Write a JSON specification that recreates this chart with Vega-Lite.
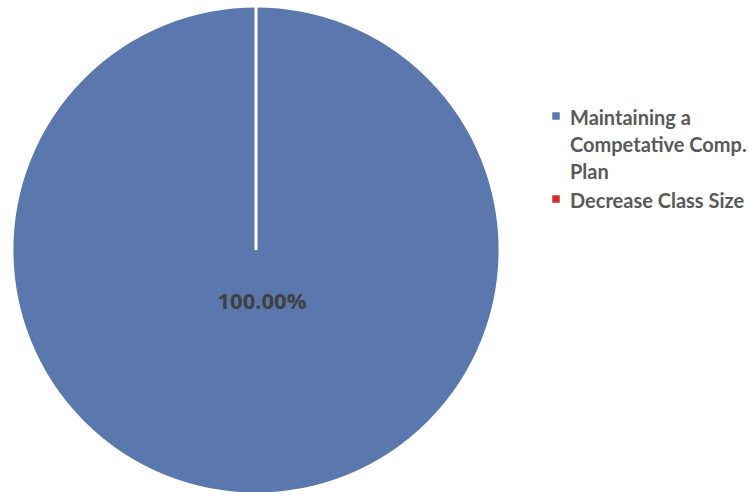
{
  "$schema": "https://vega.github.io/schema/vega-lite/v6.json",
  "width": 512,
  "height": 500,
  "padding": 0,
  "autosize": {"type": "pad"},
  "background": "white",
  "view": {"stroke": null},
  "config": {
    "style": {"guide-label": {"lineHeight": 27, "dy": -7}}
  },
  "data": {
    "values": [
      {"category": "Maintaining a Competative Comp. Plan", "value": 1},
      {"category": "Decrease Class Size", "value": 0}
    ]
  },
  "encoding": {
    "theta": {"field": "value", "type": "quantitative", "stack": true},
    "order": {"field": "value", "type": "quantitative", "sort": "descending"}
  },
  "layer": [
    {
      "mark": {"type": "arc", "outerRadius": 244, "stroke": "white", "strokeWidth": 3},
      "encoding": {
        "color": {
          "field": "category",
          "type": "nominal",
          "sort": ["Maintaining a Competative Comp. Plan", "Decrease Class Size"],
          "scale": {
            "domain": ["Maintaining a Competative Comp. Plan", "Decrease Class Size"],
            "range": ["#5A78AE", "#D62B2B"]
          },
          "legend": {
            "title": null,
            "orient": "none",
            "legendX": 546,
            "legendY": 106,
            "symbolType": "square",
            "symbolSize": 56,
            "symbolStrokeWidth": 0,
            "labelFont": "Lato",
            "labelFontWeight": "bold",
            "labelFontSize": 20,
            "labelColor": "#595959",
            "labelLimit": 300,
            "labelOffset": 4,
            "labelBaseline": "top",
            "labelExpr": "datum.label == 'Maintaining a Competative Comp. Plan' ? ['Maintaining a', 'Competative Comp.', 'Plan'] : datum.label",
            "rowPadding": 6
          }
        }
      }
    },
    {
      "transform": [{"filter": "datum.value > 0"}],
      "mark": {
        "type": "text",
        "radius": 52,
        "dx": 6,
        "font": "Open Sans",
        "fontWeight": "bold",
        "fontSize": 22,
        "color": "#404040",
        "baseline": "middle"
      },
      "encoding": {
        "text": {"field": "value", "type": "quantitative", "format": ".2%"}
      }
    }
  ]
}
